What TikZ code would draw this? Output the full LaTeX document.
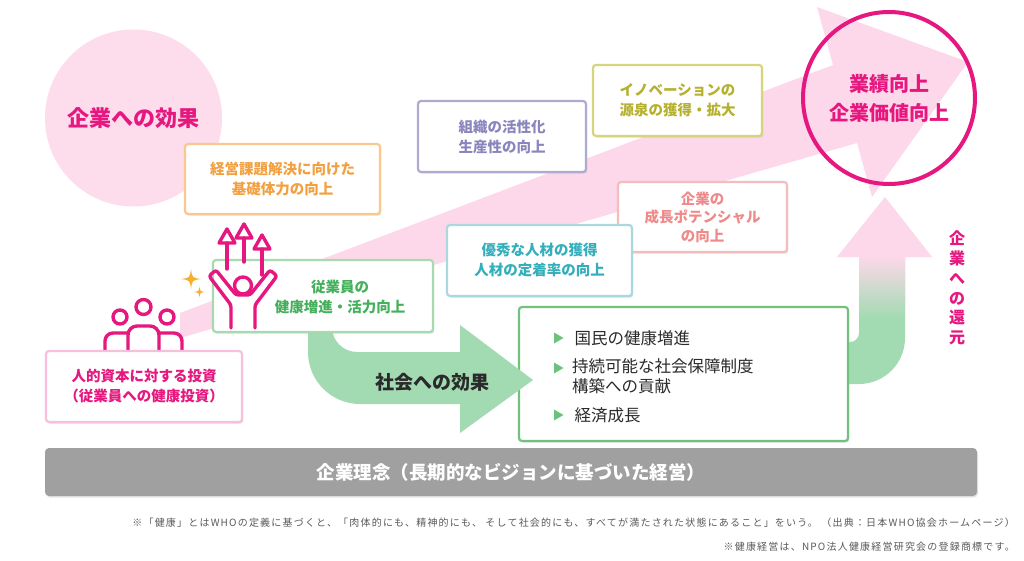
\documentclass[tikz,border=0pt]{standalone}
\usepackage{fontspec}
\setmainfont{Noto Sans CJK JP}
\newfontfamily\footfont{Noto Sans CJK JP}[LetterSpace=12]
\usetikzlibrary{shadows}
\definecolor{mag}{HTML}{E6177F}
\definecolor{pinkbg}{HTML}{FDDCEC}
\definecolor{band}{HTML}{FDD8EA}
\definecolor{orgB}{HTML}{F8C88E}
\definecolor{orgT}{HTML}{F2A040}
\definecolor{grnB}{HTML}{A9D9AE}
\definecolor{grnT}{HTML}{45B05C}
\definecolor{pnkB}{HTML}{F7BFD9}
\definecolor{purB}{HTML}{AEABD2}
\definecolor{purT}{HTML}{8A85BC}
\definecolor{yelB}{HTML}{D6D57C}
\definecolor{yelT}{HTML}{B5B02E}
\definecolor{salB}{HTML}{F4BDBD}
\definecolor{salT}{HTML}{EE8A8A}
\definecolor{cyaB}{HTML}{A9D8DE}
\definecolor{cyaT}{HTML}{33AEBB}
\definecolor{bigB}{HTML}{72C17F}
\definecolor{arrG}{HTML}{A2DBB2}
\definecolor{barG}{HTML}{A0A0A0}
\definecolor{bulG}{HTML}{6CC27C}
\definecolor{sparkC}{HTML}{F5B02E}
\definecolor{txtD}{HTML}{2A2A2A}
\definecolor{noteG}{HTML}{5A5A5A}
\newcommand\myfs[2]{\fontsize{#1}{#2}\selectfont}
\begin{document}
\begin{tikzpicture}[x=1pt,y=-1pt,
  box/.style={draw, fill=white, line width=2.2pt, rounded corners=3pt,
    drop shadow={shadow xshift=1.2pt, shadow yshift=-1.6pt, fill=black!25, opacity=0.5},
    align=center, inner sep=0pt, font=\myfs{14.5}{20}\bfseries},
  icon/.style={draw=mag, line width=3.4pt, line cap=round, line join=round},
  spark/.pic={\fill[sparkC] (0,-1) .. controls (0.12,-0.12) .. (1,0) .. controls (0.12,0.12) .. (0,1) .. controls (-0.12,0.12) .. (-1,0) .. controls (-0.12,-0.12) .. (0,-1) -- cycle;}
]
\useasboundingbox (0,0) rectangle (1024,561);
\fill[white] (0,0) rectangle (1024,561);

% background circle
\node[circle, fill=pinkbg, minimum size=177, inner sep=0pt, text=mag, font=\myfs{22}{26}\bfseries] (kouka) at (133.5,118) {企業への効果};

% pink band with arrow head
\fill[band] (180,313) -- (833,65) -- (817,7) -- (968,62) -- (872,197) -- (857,143) -- (180,338) -- cycle;

% return arrow (green to pink)
\fill[band] (837,257) -- (885,197) -- (932,257) -- cycle;
\fill[arrG] (859,256) -- (905,256) -- (905,338) arc[start angle=0, end angle=90, radius=46] -- (840,384) -- (840,342) -- (850,342) arc[start angle=90, end angle=0, radius=9] -- cycle;
\shade[top color=band, bottom color=arrG] (859,256) rectangle (905,318);

% big green box (society)
\node[box, draw=bigB, minimum width=329, minimum height=134] (society) at (683.5,374) {};
\foreach \yy in {338,368,415}{\fill[bulG] (554,\yy-5.5) -- (563.5,\yy) -- (554,\yy+5.5) -- cycle;}
\node[anchor=west, text=txtD, font=\myfs{16.5}{20}] (s1) at (571,338) {国民の健康増進};
\node[anchor=north west, align=left, text=txtD, font=\myfs{16.5}{20}, inner sep=0pt] (s2) at (572,358) {持続可能な社会保障制度\\構築への貢献};
\node[anchor=west, text=txtD, font=\myfs{16.5}{20}] (s3) at (571,415) {経済成長};

% curved green arrow
\fill[arrG] (308,327) -- (308,352) arc[start angle=180, end angle=90, radius=52] -- (460,404) -- (460,433) -- (533,380) -- (460,325) -- (460,352) -- (357,352) arc[start angle=90, end angle=180, radius=25] -- cycle;
\node[text=txtD, font=\myfs{19}{22}\bfseries] (shakai) at (432,382) {社会への効果};

% boxes
\node[box, draw=orgB, text=orgT, minimum width=195, minimum height=70] (kiso) at (282.5,179) {経営課題解決に向けた\\基礎体力の向上};
\node[box, draw=grnB, minimum width=220, minimum height=72] (kenko) at (323,296) {};
\node[text=grnT, align=center, font=\myfs{14.5}{20}\bfseries] (kenkoT) at (340,297) {従業員の\\健康増進・活力向上};
\node[box, draw=purB, text=purT, minimum width=168, minimum height=71] (soshiki) at (502,136.5) {組織の活性化\\生産性の向上};
\node[box, draw=yelB, text=yelT, minimum width=169, minimum height=71] (inov) at (677.5,100.5) {イノベーションの\\源泉の獲得・拡大};
\node[box, draw=salB, text=salT, minimum width=169, minimum height=70, font=\myfs{14.5}{18.5}\bfseries] (seicho) at (702.5,217) {企業の\\成長ポテンシャル\\の向上};
\node[box, draw=cyaB, text=cyaT, minimum width=185, minimum height=71] (jinzai) at (539.5,260.5) {優秀な人材の獲得\\人材の定着率の向上};

% people icon
\begin{scope}[icon]
\draw (120,317) circle[radius=7];
\draw (143.5,307) circle[radius=7.5];
\draw (167,317) circle[radius=7];
\draw[rounded corners=9pt] (128,350) -- (128,326) -- (159,326) -- (159,350);
\draw[rounded corners=8pt] (105,350) -- (105,333) -- (128,333);
\draw[rounded corners=8pt] (182,350) -- (182,333) -- (159,333);
\end{scope}
\node[box, draw=pnkB, text=mag, minimum width=196, minimum height=71] (toshi) at (144,386.5) {人的資本に対する投資\\（従業員への健康投資）};

% raised-arms person
\begin{scope}[icon]
\draw (243,285.5) circle[radius=8.5];
\draw[rounded corners=2.5pt] (231,328) -- (231,305) -- (209,276) -- (216,270) -- (236,295) -- (250,295) -- (270,270) -- (277,276) -- (255,305) -- (255,328);
\draw (227,269) -- (227,243);
\draw (219,243) -- (227,229) -- (235,243) -- cycle;
\draw (244,262) -- (244,238);
\draw (236,238) -- (244,224) -- (252,238) -- cycle;
\draw (262,275) -- (262,249);
\draw (254,249) -- (262,235) -- (270,249) -- cycle;
\end{scope}
\pic[scale=10] at (191,279) {spark};
\pic[scale=5.5] at (199.5,292) {spark};

% goal circle
\node[circle, draw=mag, line width=4pt, minimum size=172, inner sep=0pt, align=center, text=mag, font=\myfs{20}{29}\bfseries] (goal) at (889,98) {業績向上\\企業価値向上};

% vertical label
\node[align=center, text=mag, font=\myfs{16}{19.8}\bfseries, inner sep=0pt] (kangen) at (957,288) {企\\業\\へ\\の\\還\\元};

% bottom bar
\node[fill=barG, rounded corners=4pt, minimum width=932, minimum height=48, inner sep=0pt, text=white, font=\myfs{18.5}{22}\bfseries,
  drop shadow={shadow xshift=1pt, shadow yshift=-1.5pt, fill=black!25, opacity=0.4}] (rinen) at (511,472) {企業理念（長期的なビジョンに基づいた経営）};

% notes
\node[anchor=east, text=noteG, font=\footfont\myfs{10}{12}, inner sep=0pt] (note1) at (1015,523) {※「健康」とはWHOの定義に基づくと、「肉体的にも、精神的にも、 そして社会的にも、すべてが満たされた状態にあること」をいう。 （出典：日本WHO協会ホームページ）};
\node[anchor=east, text=noteG, font=\footfont\myfs{10}{12}, inner sep=0pt] (note2) at (1015,547) {※健康経営は、NPO法人健康経営研究会の登録商標です。};
\end{tikzpicture}
\end{document}
